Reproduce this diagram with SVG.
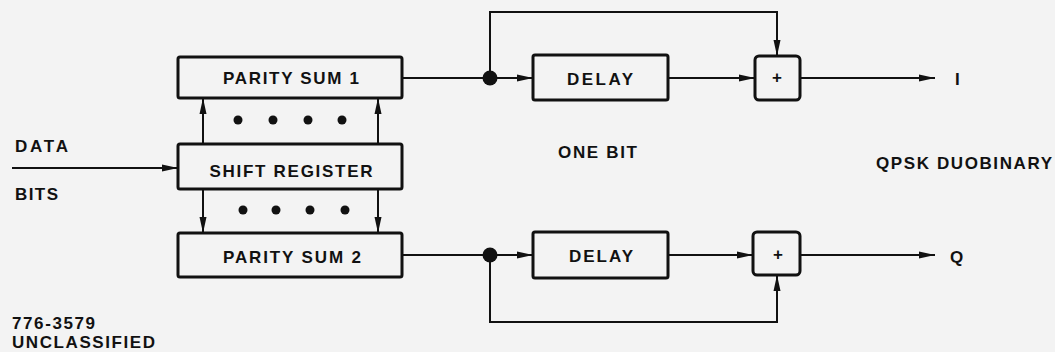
<svg xmlns="http://www.w3.org/2000/svg" width="1055" height="352" viewBox="0 0 1055 352">
<style>
.bg{fill:#f3f3f3}
.box{fill:none;stroke:#111;stroke-width:3}
.ln{fill:none;stroke:#111;stroke-width:2}
.t{font-family:"Liberation Sans",Arial,sans-serif;font-weight:bold;font-size:17px;fill:#111}
.dot{fill:#111}
</style>
<defs>
<marker id="ah" viewBox="0 0 16 9" refX="16" refY="4.5" markerWidth="16" markerHeight="9" markerUnits="userSpaceOnUse" orient="auto">
<path d="M0,1 L16,4.5 L0,8 Z" fill="#111"/>
</marker>
</defs>
<rect class="bg" x="0" y="0" width="1055" height="352"/>
<g id="connectors">
<line class="ln" x1="12" y1="168" x2="178" y2="168" marker-end="url(#ah)"/>
<line class="ln" x1="203" y1="144" x2="203" y2="98" marker-end="url(#ah)"/>
<line class="ln" x1="378" y1="144" x2="378" y2="98" marker-end="url(#ah)"/>
<line class="ln" x1="203" y1="189" x2="203" y2="233" marker-end="url(#ah)"/>
<line class="ln" x1="378" y1="189" x2="378" y2="233" marker-end="url(#ah)"/>
<line class="ln" x1="402" y1="78" x2="490" y2="78"/>
<line class="ln" x1="490" y1="78" x2="533" y2="78" marker-end="url(#ah)"/>
<line class="ln" x1="668" y1="78" x2="755" y2="78" marker-end="url(#ah)"/>
<polyline class="ln" points="490,78 490,12 777,12 777,56" marker-end="url(#ah)"/>
<line class="ln" x1="800" y1="78" x2="935" y2="78" marker-end="url(#ah)"/>
<line class="ln" x1="402" y1="255" x2="490" y2="255"/>
<line class="ln" x1="490" y1="255" x2="533" y2="255" marker-end="url(#ah)"/>
<line class="ln" x1="668" y1="255" x2="753" y2="255" marker-end="url(#ah)"/>
<polyline class="ln" points="490,255 490,322 777,322 777,275" marker-end="url(#ah)"/>
<line class="ln" x1="800" y1="255" x2="935" y2="255" marker-end="url(#ah)"/>
<circle class="dot" cx="490" cy="78" r="7.5"/>
<circle class="dot" cx="490" cy="255" r="7.5"/>
</g>
<g id="parity1">
<rect class="box" x="178" y="57" width="224" height="41" rx="2"/>
<text class="t" x="291" y="84" text-anchor="middle" textLength="136" lengthAdjust="spacing">PARITY SUM 1</text>
</g>
<g id="shiftreg">
<rect class="box" x="178" y="144" width="224" height="45" rx="2"/>
<text class="t" x="291" y="177" text-anchor="middle" textLength="163" lengthAdjust="spacing">SHIFT REGISTER</text>
</g>
<g id="parity2">
<rect class="box" x="178" y="233" width="224" height="44" rx="2"/>
<text class="t" x="292" y="263" text-anchor="middle" textLength="138" lengthAdjust="spacing">PARITY SUM 2</text>
</g>
<g id="dots">
<circle class="dot" cx="238" cy="120" r="4.5"/>
<circle class="dot" cx="273" cy="120" r="4.5"/>
<circle class="dot" cx="308" cy="120" r="4.5"/>
<circle class="dot" cx="342" cy="120" r="4.5"/>
<circle class="dot" cx="243" cy="210" r="4.5"/>
<circle class="dot" cx="276" cy="210" r="4.5"/>
<circle class="dot" cx="310" cy="210" r="4.5"/>
<circle class="dot" cx="345" cy="210" r="4.5"/>
</g>
<g id="delay1">
<rect class="box" x="533" y="55" width="135" height="45" rx="2"/>
<text class="t" x="600" y="85" text-anchor="middle" textLength="66" lengthAdjust="spacing">DELAY</text>
</g>
<g id="delay2">
<rect class="box" x="533" y="232" width="135" height="46" rx="2"/>
<text class="t" x="601" y="262" text-anchor="middle" textLength="64" lengthAdjust="spacing">DELAY</text>
</g>
<g id="sum1">
<rect class="box" x="755" y="56" width="45" height="44" rx="4"/>
<text class="t" x="777" y="83" text-anchor="middle" font-size="12">+</text>
</g>
<g id="sum2">
<rect class="box" x="753" y="232" width="47" height="43" rx="4"/>
<text class="t" x="778" y="260" text-anchor="middle" font-size="12">+</text>
</g>
<g id="labels">
<text class="t" x="15" y="152" textLength="53" lengthAdjust="spacing">DATA</text>
<text class="t" x="15" y="200" textLength="43" lengthAdjust="spacing">BITS</text>
<text class="t" x="558" y="158" textLength="79" lengthAdjust="spacing">ONE BIT</text>
<text class="t" x="876" y="169" textLength="176" lengthAdjust="spacing">QPSK DUOBINARY</text>
<text class="t" x="955" y="85" font-weight="normal">I</text>
<text class="t" x="950" y="263">Q</text>
<text class="t" x="12" y="329" textLength="83" lengthAdjust="spacing">776-3579</text>
<text class="t" x="12" y="348" textLength="143" lengthAdjust="spacing">UNCLASSIFIED</text>
</g>
</svg>
